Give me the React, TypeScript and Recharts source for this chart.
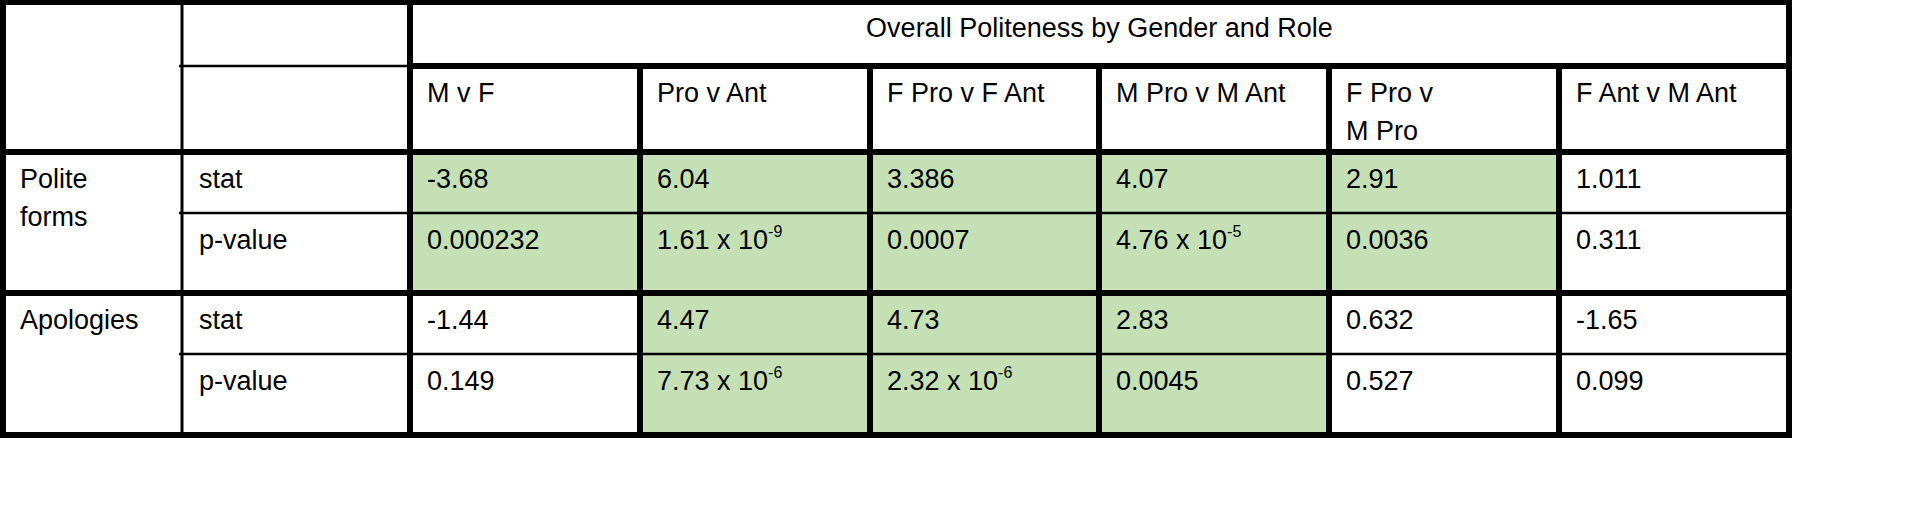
import React from "react";
import { ComposedChart, XAxis, YAxis, Scatter } from "recharts";

const title = "Overall Politeness by Gender and Role";
const comparisons = [["M v F"], ["Pro v Ant"], ["F Pro v F Ant"], ["M Pro v M Ant"], ["F Pro v", "M Pro"], ["F Ant v M Ant"]];
const groups = [["Polite", "forms"], ["Apologies"]];
const measures = ["stat", "p-value"];
// [mantissa, exponent]
const politeStat: [string, string?][] = [["-3.68"], ["6.04"], ["3.386"], ["4.07"], ["2.91"], ["1.011"]];
const politeP: [string, string?][] = [["0.000232"], ["1.61 x 10", "-9"], ["0.0007"], ["4.76 x 10", "-5"], ["0.0036"], ["0.311"]];
const apolStat: [string, string?][] = [["-1.44"], ["4.47"], ["4.73"], ["2.83"], ["0.632"], ["-1.65"]];
const apolP: [string, string?][] = [["0.149"], ["7.73 x 10", "-6"], ["2.32 x 10", "-6"], ["0.0045"], ["0.527"], ["0.099"]];
const politeSig = [true, true, true, true, true, false];
const apolSig = [false, true, true, true, false, false];

const COLS = [3, 182, 410, 640, 870, 1099, 1329, 1559, 1789];
const ROWS = [2, 66, 152, 213, 293, 354, 435];
const GREEN = "#C5E0B4";
const FONT = "'Liberation Sans', Arial, sans-serif";
const FS = 27;

type Cell = { x: number; y: number; x0: number; y0: number; w: number; h: number; fill: string; lines: [string, string?][]; base: number; center?: boolean };
const cells: Cell[] = [];
const add = (c0: number, c1: number, r0: number, r1: number, fill: string, lines: [string, string?][], base: number, center = false) => {
  const x0 = COLS[c0], x1 = COLS[c1], y0 = ROWS[r0], y1 = ROWS[r1];
  cells.push({ x: (x0 + x1) / 2, y: (y0 + y1) / 2, x0, y0, w: x1 - x0, h: y1 - y0, fill, lines, base, center });
};
add(2, 8, 0, 1, "#fff", [[title]], 35, true);
comparisons.forEach((c, i) => add(2 + i, 3 + i, 1, 2, "#fff", c.map((t) => [t] as [string]), 36));
groups.forEach((g, i) => add(0, 1, 2 + i * 2, 4 + i * 2, "#fff", g.map((t) => [t] as [string]), 36));
[0, 1].forEach((gi) => measures.forEach((m, mi) => add(1, 2, 2 + gi * 2 + mi, 3 + gi * 2 + mi, "#fff", [[m]], 36)));
const bodyRows = [politeStat, politeP, apolStat, apolP];
const sig = [politeSig, politeSig, apolSig, apolSig];
bodyRows.forEach((row, ri) => row.forEach((v, ci) => add(2 + ci, 3 + ci, 2 + ri, 3 + ri, sig[ri][ci] ? GREEN : "#fff", [v], 36)));

const CellShape = (props: any) => {
  const p: Cell = props.payload;
  return (
    <g>
      <rect x={p.x0} y={p.y0} width={p.w} height={p.h} fill={p.fill} />
      {p.lines.map((ln, i) => (
        <text key={i} x={p.center ? p.x : p.x0 + 17} y={p.y0 + p.base + i * 38} textAnchor={p.center ? "middle" : "start"} fontFamily={FONT} fontSize={FS} fill="#000">
          {ln[0]}
          {ln[1] ? <tspan dy={-12} fontSize={16}>{ln[1]}</tspan> : null}
        </text>
      ))}
    </g>
  );
};

const T = 6, t = 2.5;
type Ln = { x: number; y: number; x1: number; y1: number; x2: number; y2: number; w: number };
const lines: Ln[] = [];
const vl = (x: number, y0: number, y1: number, w: number) => lines.push({ x, y: (y0 + y1) / 2, x1: x, y1: y0 - T / 2, x2: x, y2: y1 + T / 2, w });
const hl = (y: number, x0: number, x1: number, w: number) => lines.push({ x: (x0 + x1) / 2, y, x1: x0 - T / 2, y1: y, x2: x1 + T / 2, y2: y, w });
hl(ROWS[1], COLS[1], COLS[2], t);
hl(ROWS[3], COLS[1], COLS[8], t);
hl(ROWS[5], COLS[1], COLS[8], t);
vl(COLS[1], ROWS[0], ROWS[6], 3);
[3, 4, 5, 6, 7].forEach((c) => vl(COLS[c], ROWS[1], ROWS[6], T));
vl(COLS[0], ROWS[0], ROWS[6], T);
vl(COLS[2], ROWS[0], ROWS[6], T);
vl(COLS[8], ROWS[0], ROWS[6], T);
hl(ROWS[0], COLS[0], COLS[8], T);
hl(ROWS[1], COLS[2], COLS[8], T);
hl(ROWS[2], COLS[0], COLS[8], T);
hl(ROWS[4], COLS[0], COLS[8], T);
hl(ROWS[6], COLS[0], COLS[8], T);

const LineShape = (props: any) => {
  const p: Ln = props.payload;
  return <line x1={p.x1} y1={p.y1} x2={p.x2} y2={p.y2} stroke="#000" strokeWidth={p.w} />;
};

export default function App() {
  return (
    <div style={{ position: "absolute", left: 0, top: 0, background: "#fff" }}>
      <ComposedChart width={1908} height={507} margin={{ top: 0, right: 0, bottom: 0, left: 0 }}>
        <XAxis type="number" dataKey="x" domain={[0, 1908]} hide />
        <YAxis type="number" dataKey="y" domain={[0, 507]} reversed hide width={0} />
        <Scatter data={cells} dataKey="y" shape={CellShape} isAnimationActive={false} />
        <Scatter data={lines} dataKey="y" shape={LineShape} isAnimationActive={false} />
      </ComposedChart>
    </div>
  );
}
